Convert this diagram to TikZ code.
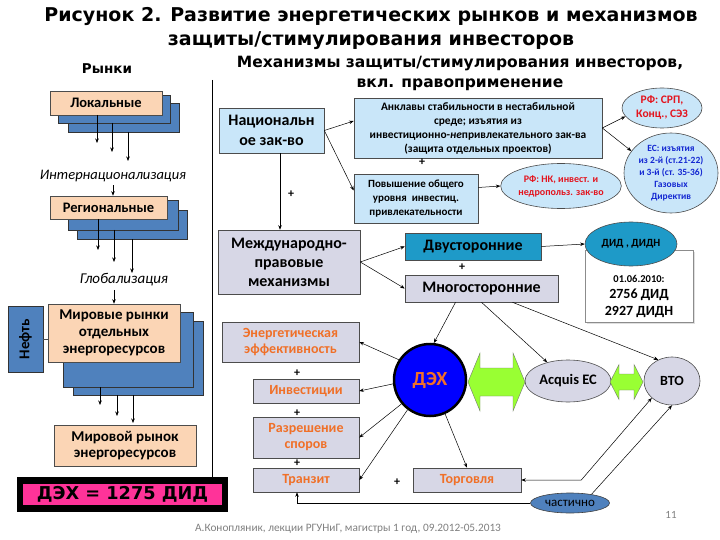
\documentclass[tikz,border=0pt]{standalone}
\usepackage{fontspec}
\usepackage{graphicx}
\setmainfont{Carlito}
\newfontfamily\dvs{DejaVu Sans}
\usetikzlibrary{arrows.meta, positioning, calc, shapes.geometric, shadows}
\definecolor{mPeach}{HTML}{FBD5B5}
\definecolor{mBlue}{HTML}{4F81BD}
\definecolor{mSky}{HTML}{C9E6F9}
\definecolor{mLav}{HTML}{D7D7E6}
\definecolor{mTeal}{HTML}{1E9AC8}
\definecolor{mOrange}{HTML}{F07028}
\definecolor{mRed}{HTML}{E3141E}
\definecolor{mNavy}{HTML}{1428D2}
\definecolor{mLime}{HTML}{99FF33}
\definecolor{mPink}{HTML}{FF3399}
\definecolor{mGrey}{HTML}{7F7F7F}
\newcommand{\fsz}[2]{\fontsize{#1}{#2}\selectfont}

\begin{document}
\begin{tikzpicture}[x=1pt, y=-1pt,
    box/.style={draw=black!70, line width=0.6pt, inner sep=0pt, align=center},
    obox/.style={box, fill=mPeach, font=\bfseries\fsz{14.5}{17}},
    sbox/.style={box, fill=mSky},
    gbox/.style={box, fill=mLav},
    ebox/.style={gbox, text=mOrange, font=\bfseries\fsz{14}{16}},
    oval/.style={ellipse, draw=black!70, line width=0.6pt, inner sep=0pt, align=center},
    stack/.style={draw=black!80, line width=0.6pt, fill=mBlue},
    arr/.style={-{Stealth[length=4.5pt, width=3.5pt]}, line width=0.5pt},
    dbl/.style={{Stealth[length=4.5pt, width=3.5pt]}-{Stealth[length=4.5pt, width=3.5pt]}, line width=0.5pt},
    plus/.style={font=\bfseries\fsz{12}{12}}]
  \useasboundingbox (0,0) rectangle (720,540);

  % title and headings
  \node[font=\dvs\bfseries\fsz{19}{24}, align=center] (title) at (371,29)
    {Рисунок 2. Развитие энергетических рынков и механизмов\\защиты/стимулирования инвесторов};
  \node[font=\dvs\bfseries\fsz{13.5}{16}] (hMkt) at (107,69) {Рынки};
  \node[font=\dvs\bfseries\fsz{15.5}{20}, align=center] (hMech) at (460,73)
    {Механизмы защиты/стимулирования инвесторов,\\вкл. правоприменение};
  \coordinate (divTop) at (212,80);
  \coordinate (divBot) at (212,487);
  \draw[line width=0.6pt] (divTop) -- (divBot);

  % markets column: stacked cards
  \foreach \xa/\ya/\xb/\yb in {68/103/179/132, 58/95/170/123, 77/210/187/239,
      68/200/178/230, 73/321/203/395, 63/312/193/387}
    \draw[stack] (\xa,\ya) rectangle (\xb,\yb);
  \node[obox, minimum width=112pt, minimum height=24pt] (lok) at (106,103) {Локальные};
  \node[obox, minimum width=117pt, minimum height=23pt] (reg) at (108.5,207.5) {Региональные};
  \node[obox, minimum width=132pt, minimum height=58pt, font=\bfseries\fsz{15}{17}] (mir)
    at (114,333) {Мировые рынки\\отдельных\\энергоресурсов};
  \node[obox, minimum width=142pt, minimum height=41pt, font=\bfseries\fsz{15}{16}] (wrld)
    at (125,445.5) {Мировой рынок\\энергоресурсов};
  \node[stack, inner sep=0pt, minimum width=35pt, minimum height=66pt,
    font=\bfseries\fsz{15}{17}] (neft) at (25.5,339) {\rotatebox{90}{Нефть}};
  \draw[line width=0.5pt, black!70] (neft.east) -- (neft.east -| mir.west);

  % fan-out arrows / x / from / to
  \foreach \x/\ya/\yb [count=\i] in {97/115/143, 112/123/152, 128/132/161,
      98/219/250, 114/230/262, 132/239/273, 100/387/405, 117/395/416, 133/395/423} {
    \coordinate (fanA\i) at (\x,\ya);
    \coordinate (fanB\i) at (\x,\yb);
    \draw[arr] (fanA\i) -- (fanB\i);
  }
  \node[font=\itshape\fsz{14.5}{18}] (intern) at (113,176) {Интернационализация};
  \node[font=\itshape\fsz{15}{18}] (glob) at (124,280) {Глобализация};
  \draw[arr] (intern.south) -- (intern.south |- reg.north);
  \draw[arr] (glob.south -| mir.north) -- (mir.north);

  \node[fill=mPink, draw=black, line width=6.5pt, minimum width=205pt, minimum height=28pt,
    inner sep=0pt, font=\dvs\bfseries\fsz{17.7}{20}] (dexSum) at (122.5,494.5) {ДЭХ = 1275 ДИД};

  % national law
  \node[sbox, minimum width=105pt, minimum height=45pt, font=\bfseries\fsz{16}{20}] (nat)
    at (271.5,130.5) {Национальн\\ое зак-во};
  \node[sbox, minimum width=248pt, minimum height=60pt, font=\bfseries\fsz{11.4}{14}] (ankl)
    at (478,128) {Анклавы стабильности в нестабильной\\среде; изъятия из\\инвестиционно-\textit{не}привлекательного зак-ва\\(защита отдельных проектов)};
  \node[sbox, minimum width=124pt, minimum height=49pt, font=\bfseries\fsz{11}{14}] (pov)
    at (416,198.5) {Повышение общего\\уровня\ \ инвестиц.\\привлекательности};
  \node[oval, fill=mSky, minimum width=108pt, minimum height=45pt, text=mRed,
    font=\bfseries\fsz{10}{13}] (rfnk) at (561,186) {РФ: НК, инвест. и\\недропольз. зак-во};
  \node[oval, fill=mSky, minimum width=80pt, minimum height=40pt, text=mRed,
    font=\bfseries\fsz{11.5}{14}] (srp) at (662,108) {РФ: СРП,\\Конц., СЭЗ};
  \node[oval, fill=mSky, minimum width=94pt, minimum height=80pt, text=mNavy,
    font=\bfseries\fsz{9.5}{12}] (ec) at (671,173)
    {ЕС: изъятия\\из 2-й (ст.21-22)\\и 3-й (ст. 35-36)\\Газовых\\Директив};

  % international law
  \node[gbox, minimum width=142pt, minimum height=64pt, font=\bfseries\fsz{16}{19}] (intl)
    at (289,262) {Международно-\\правовые\\механизмы};
  \node[box, fill=mTeal, minimum width=136pt, minimum height=27pt, font=\bfseries\fsz{16}{18}]
    (dvu) at (473,246.5) {Двусторонние};
  \node[gbox, minimum width=153pt, minimum height=27pt, font=\bfseries\fsz{16}{18}]
    (mno) at (481.5,288.5) {Многосторонние};
  \node[draw=black!45, fill=white, line width=0.6pt, minimum width=108pt, minimum height=72pt,
    drop shadow={shadow xshift=1.5pt, shadow yshift=-1.5pt, fill=black!25}] (didBox)
    at (639,286) {};
  \node[align=center, font=\bfseries\fsz{14}{16.5}] (didTxt) at (639,296)
    {{\fsz{10.5}{13}01.06.2010:}\\2756 ДИД\\2927 ДИДН};
  \node[oval, fill=mTeal, minimum width=92pt, minimum height=44pt, font=\bfseries\fsz{11}{13}]
    (did) at (631,244) {ДИД , ДИДН};

  % energy charter
  \node[circle, draw=black, line width=2.5pt, fill=blue, minimum size=72pt, inner sep=0pt,
    text=mOrange, font=\bfseries\fsz{20}{24}] (dex) at (430,380) {ДЭХ};
  \node[oval, fill=mLav, minimum width=86pt, minimum height=42pt, font=\bfseries\fsz{14.5}{16}]
    (acq) at (568,381) {Acquis ЕС};
  \node[oval, fill=mLav, minimum width=56pt, minimum height=48pt, font=\bfseries\fsz{14}{16}]
    (vto) at (672,381) {ВТО};
  % double arrows / tip / tip / head / body / head half
  \foreach \xa/\xb/\hl/\bh/\hh in {468/525/12/14/29, 610/643/9/8/17.5}
    \draw[fill=mLime, draw=black!55, line width=0.4pt]
      (\xa,382) -- (\xa+\hl,382-\hh) -- (\xa+\hl,382-\bh) -- (\xb-\hl,382-\bh)
      -- (\xb-\hl,382-\hh) -- (\xb,382) -- (\xb-\hl,382+\hh) -- (\xb-\hl,382+\bh)
      -- (\xa+\hl,382+\bh) -- (\xa+\hl,382+\hh) -- cycle;

  \node[ebox, minimum width=137pt, minimum height=40pt] (ee) at (290.5,342)
    {Энергетическая\\эффективность};
  \node[ebox, minimum width=106pt, minimum height=24pt] (inv) at (306,391) {Инвестиции};
  \node[ebox, minimum width=106pt, minimum height=41pt] (raz) at (306,437.5)
    {Разрешение\\споров};
  \node[ebox, minimum width=106pt, minimum height=24pt] (tra) at (306,480) {Транзит};
  \node[ebox, minimum width=108pt, minimum height=24pt] (tor) at (467,480) {Торговля};
  \node[oval, fill=mBlue, draw=black!75, minimum width=79pt, minimum height=20pt,
    font=\fsz{13}{14}] (chast) at (570,503) {частично};

  \foreach \x/\y [count=\i] in {291/194, 422/162, 462/267, 297/373, 297/413, 297/463, 397/482}
    \node[plus] (plus\i) at (\x,\y) {+};

  % connectors
  \draw[arr] (nat.east) -- ([yshift=7pt]ankl.west);
  \draw[arr] (nat.east) -- ([yshift=8pt]pov.west);
  \draw[arr] (nat.south -| 280,0) -- (intl.north -| 280,0);
  \draw[arr] ([yshift=11pt]pov.east) -- (rfnk.west);
  \draw[arr] (ankl.east) -- (srp.193);
  \draw[arr] (ankl.east) -- (ec.151);
  \draw[arr] (intl.east) -- (dvu.west);
  \draw[arr] (intl.east) -- (mno.west);
  \draw[arr] (dvu.east) -- (did.west);
  \draw[arr] ([xshift=-26pt]mno.south) -- (dex.84);
  \draw[arr] (mno.south) -- (acq.138);
  \draw[arr] ([xshift=31pt]mno.south) -- (vto.123);
  \draw[arr] (dex.147) -- (ee.east);
  \draw[arr] (dex.186) -- (inv.east);
  \draw[arr] (dex.220) -- (raz.east);
  \draw[arr] (dex.233) -- (tra.east);
  \draw[arr] (dex.294) -- (tor.north);
  \draw[dbl] (tor.east) -- ++(60,0) -- (vto.220);
  \draw[arr] (chast.22) -- (vto.south);
  \draw[arr] (chast.west) -| ([xshift=-9pt]tra.south);

  % footer
  \node[text=mGrey, font=\fsz{11.3}{13}] (foot) at (348,529)
    {А.Конопляник, лекции РГУНиГ, магистры 1 год, 09.2012-05.2013};
  \node[text=mGrey, font=\fsz{11}{13}] (page) at (671,515) {11};
\end{tikzpicture}
\end{document}
